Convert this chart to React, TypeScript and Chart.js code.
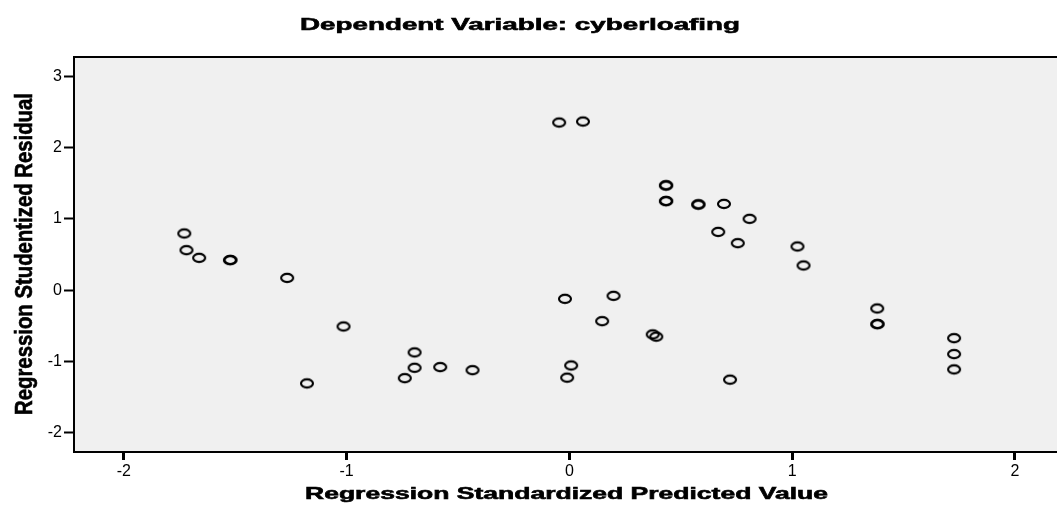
import React, { useEffect, useRef } from "react";
import { Chart, registerables } from "chart.js";

Chart.register(...registerables);

const TITLE = "Dependent Variable: cyberloafing";
const X_TITLE = "Regression Standardized Predicted Value";
const Y_TITLE = "Regression Studentized Residual";

const X_TICKS = [-2, -1, 0, 1, 2];
const Y_TICKS = [-2, -1, 0, 1, 2, 3];

const X_RANGE = [-2.224, 2.189];
const Y_RANGE = [-2.27, 3.27];

// Regression standardized predicted value
const PREDICTED = [
  -1.729, -1.719, -1.662, -1.524, -1.521, -1.267, -1.014, -1.178, -0.695, -0.695,
  -0.58, -0.435, -0.739, -0.046, 0.061, -0.02, 0.198, 0.147, 0.374, 0.39,
  0.008, -0.01, 0.433, 0.435, 0.433, 0.435, 0.578, 0.58, 0.694, 0.809,
  0.668, 0.756, 1.024, 1.051, 0.721, 1.382, 1.382, 1.384, 1.727, 1.727,
  1.727,
];

// Regression studentized residual
const RESIDUAL = [
  0.795, 0.561, 0.453, 0.421, 0.423, 0.172, -0.509, -1.308, -0.873, -1.089,
  -1.079, -1.122, -1.234, 2.351, 2.365, -0.122, -0.08, -0.435, -0.621, -0.652,
  -1.056, -1.227, 1.468, 1.47, 1.248, 1.25, 1.201, 1.203, 1.21, 1.0,
  0.817, 0.659, 0.613, 0.346, -1.255, -0.257, -0.477, -0.475, -0.673, -0.897,
  -1.112,
];

const FONT = '"Liberation Sans", Arial, sans-serif';

function makeMarker(): HTMLCanvasElement {
  const c = document.createElement("canvas");
  c.width = 18;
  c.height = 14;
  const g = c.getContext("2d")!;
  g.strokeStyle = "#000";
  g.lineWidth = 2.1;
  g.beginPath();
  g.ellipse(9, 7, 6.0, 4.1, 0, 0, Math.PI * 2);
  g.stroke();
  return c;
}

function drawStretched(
  ctx: CanvasRenderingContext2D,
  text: string,
  font: string,
  x: number,
  y: number,
  targetW: number,
  rotate: boolean
) {
  ctx.save();
  ctx.translate(x, y);
  if (rotate) ctx.rotate(-Math.PI / 2);
  ctx.font = font;
  const w = ctx.measureText(text).width;
  ctx.scale(targetW / w, 1);
  ctx.fillStyle = "#000";
  ctx.strokeStyle = "#000";
  ctx.lineWidth = 0.6;
  ctx.textAlign = "center";
  ctx.textBaseline = "alphabetic";
  ctx.fillText(text, 0, 0);
  ctx.strokeText(text, 0, 0);
  ctx.restore();
}

const framePlugin = {
  id: "frame",
  beforeDraw(chart: any) {
    const { ctx, chartArea: a } = chart;
    ctx.save();
    ctx.fillStyle = "#f0f0f0";
    ctx.fillRect(a.left, a.top, a.right - a.left, a.bottom - a.top);
    ctx.restore();
  },
  afterDatasetsDraw(chart: any) {
    const { ctx, chartArea: a } = chart;
    ctx.save();
    ctx.strokeStyle = "#000";
    ctx.lineWidth = 2;
    ctx.beginPath();
    ctx.moveTo(a.right + 2, a.top);
    ctx.lineTo(a.left, a.top);
    ctx.lineTo(a.left, a.bottom);
    ctx.lineTo(a.right + 2, a.bottom);
    ctx.stroke();
    ctx.restore();
  },
  afterDraw(chart: any) {
    const { ctx } = chart;
    drawStretched(ctx, TITLE, `bold 17px ${FONT}`, 520, 29.5, 440, false);
    drawStretched(ctx, X_TITLE, `bold 17px ${FONT}`, 566.5, 499, 523, false);
    drawStretched(ctx, Y_TITLE, `bold 24px ${FONT}`, 32, 254, 322, true);
  },
};

export default function App() {
  const ref = useRef<HTMLCanvasElement | null>(null);

  useEffect(() => {
    if (!ref.current) return;
    const marker = makeMarker();
    const points = PREDICTED.map((x, i) => ({ x, y: RESIDUAL[i] }));
    const chart = new Chart(ref.current, {
      type: "scatter",
      data: {
        datasets: [
          {
            data: points,
            pointStyle: marker as any,
            pointRadius: 6,
            pointHoverRadius: 6,
            borderColor: "#000",
            backgroundColor: "transparent",
            clip: false as any,
          },
        ],
      },
      options: {
        responsive: false,
        animation: false,
        devicePixelRatio: 1,
        layout: { autoPadding: false, padding: { top: 57, left: 0, right: 0, bottom: 0 } },
        plugins: {
          legend: { display: false },
          title: { display: false },
          tooltip: { enabled: false },
        },
        scales: {
          x: {
            type: "linear",
            min: X_RANGE[0],
            max: X_RANGE[1],
            afterBuildTicks: (s: any) => {
              s.ticks = X_TICKS.map((v) => ({ value: v }));
            },
            afterFit: (s: any) => {
              s.height = 63;
              s.paddingLeft = 0;
              s.paddingRight = 0;
            },
            ticks: {
              color: "#000",
              font: { family: FONT, size: 16 },
              padding: 2,
              maxRotation: 0,
              autoSkip: false,
              callback: (v: any) => String(v),
            },
            grid: {
              display: true,
              drawOnChartArea: false,
              drawTicks: true,
              tickLength: 8,
              tickWidth: 3,
              tickColor: "#000",
            },
            border: { display: false },
          },
          y: {
            type: "linear",
            min: Y_RANGE[0],
            max: Y_RANGE[1],
            afterBuildTicks: (s: any) => {
              s.ticks = Y_TICKS.map((v) => ({ value: v }));
            },
            afterFit: (s: any) => {
              s.width = 74;
              s.paddingTop = 0;
              s.paddingBottom = 0;
            },
            ticks: {
              color: "#000",
              font: { family: FONT, size: 16 },
              padding: 2,
              autoSkip: false,
              callback: (v: any) => String(v),
            },
            grid: {
              display: true,
              drawOnChartArea: false,
              drawTicks: true,
              tickLength: 10,
              tickWidth: 2,
              tickColor: "#000",
            },
            border: { display: false },
          },
        },
      },
      plugins: [framePlugin],
    });
    return () => chart.destroy();
  }, []);

  return (
    <div style={{ position: "fixed", left: 0, top: 0, width: 1057, height: 515, background: "#fff" }}>
      <canvas ref={ref} width={1057} height={515} />
    </div>
  );
}
